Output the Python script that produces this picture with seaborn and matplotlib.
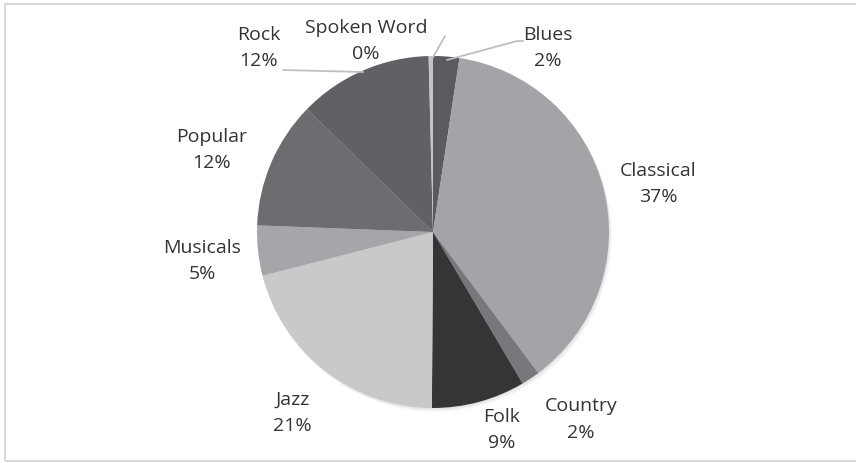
"""Pie chart of music collection share by genre."""

import matplotlib

matplotlib.use("Agg")
import seaborn as sns
from matplotlib import pyplot as plt
from matplotlib.patches import Circle, Rectangle

genres = ["Blues", "Classical", "Country", "Folk", "Jazz", "Musicals", "Popular", "Rock", "Spoken Word"]
shares = [2.4, 37.4, 1.7, 8.6, 20.9, 4.6, 11.7, 12.3, 0.4]
slice_colors = ["#5a5b5e", "#a3a4a8", "#77787c", "#353535", "#c8c9cb",
                "#a5a6a9", "#6c6d70", "#606164", "#c4c4c4"]

# label centres in pie-radius units (pie centre at 0,0)
label_x = [0.65, 1.28, 0.84, 0.39, -0.80, -1.31, -1.26, -0.99, -0.38]
label_y = [1.05, 0.28, -1.06, -1.12, -1.02, -0.16, 0.47, 1.05, 1.09]

sns.set_theme(style="white")
plt.rcParams["font.family"] = ["Open Sans", "DejaVu Sans"]

PX = 176.0
fig = plt.figure(figsize=(8.56, 4.64), dpi=100)
ax = fig.add_axes([0, 0, 1, 1])

# soft shadow
for i in range(3):
    ax.add_patch(Circle((0.005 * (i + 1), -0.007 * (i + 1)), 1.0, color="black", alpha=0.035, lw=0, zorder=0))

ax.pie(shares, colors=slice_colors, startangle=90, counterclock=False,
       radius=1.0, center=(0, 0), frame=True, wedgeprops=dict(linewidth=0))
ax.set_xlim(-433 / PX, (856 - 433) / PX)
ax.set_ylim(-231 / PX, 233 / PX)
ax.set_aspect("equal")
ax.axis("off")

for name, val, x, y in zip(genres, shares, label_x, label_y):
    ax.text(x, y, f"{name}\n{round(val):d}%", ha="center", va="center",
            fontsize=14, color="#333333", linespacing=1.6)

# leader lines
line_kw = dict(color="#bfbfbf", lw=1.3, zorder=3)
ax.plot([14 / PX, 84 / PX, 90 / PX], [172 / PX, 191 / PX, 191 / PX], **line_kw)
ax.plot([-1 / PX, 12 / PX], [173 / PX, 196 / PX], **line_kw)
ax.plot([-70 / PX, -150 / PX], [160 / PX, 162 / PX], **line_kw)

fig.patches.append(Rectangle((5 / 856, 2 / 464), 1.0, 457 / 464, transform=fig.transFigure,
                             fill=False, edgecolor="#d9d9d9", lw=1.5))

fig.savefig("out.png", dpi=100)
